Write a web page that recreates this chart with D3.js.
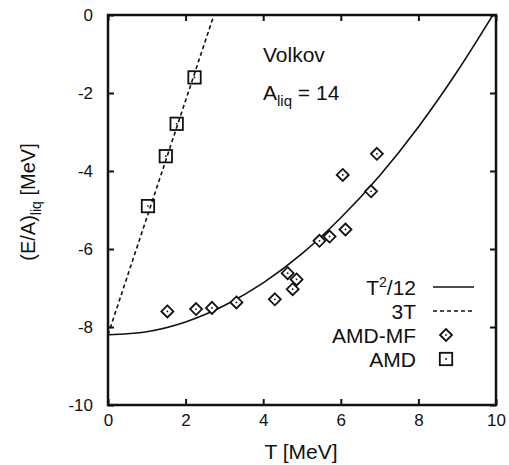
<!DOCTYPE html>
<html><head><meta charset="utf-8">
<script src="https://cdn.jsdelivr.net/npm/d3@7"></script>
<style>
html,body{margin:0;padding:0;background:#fff;}
svg{display:block;font-family:"Liberation Sans",Arial,sans-serif;}
</style></head>
<body><svg id="c" width="509" height="465"></svg>
<script>
// ---- data ----
const xTicks = [0, 2, 4, 6, 8, 10];
const yTicks = [0, -2, -4, -6, -8, -10];
// AMD (squares)
const amdT = [1.03, 1.49, 1.77, 2.23];
const amdE = [-4.90, -3.62, -2.79, -1.60];
// AMD-MF (diamonds)
const mfT = [1.53, 2.27, 2.68, 3.31, 4.30, 4.63, 4.76, 4.86, 5.45, 5.71, 6.05, 6.12, 6.78, 6.93];
const mfE = [-7.60, -7.54, -7.51, -7.37, -7.29, -6.62, -7.03, -6.78, -5.79, -5.68, -4.10, -5.50, -4.52, -3.56];
// T^2/12 curve (solid)
const curveT = [0, 1, 2, 3, 4, 5, 6, 7, 8, 9, 9.92];
const curveE = [-8.20, -8.12, -7.87, -7.45, -6.87, -6.12, -5.20, -4.12, -2.87, -1.45, 0];
// 3T line (dashed)
const lineT = [0, 2.73];
const lineE = [-8.20, 0];
const legendLabels = ["T²/12", "3T", "AMD-MF", "AMD"];

// ---- layout ----
const svg = d3.select("#c");
const L = 108, R = 496, T = 15, B = 405;
const x = d3.scaleLinear().domain([0, 10]).range([L, R]);
const y = d3.scaleLinear().domain([-10, 0]).range([B, T]);

svg.append("defs").append("clipPath").attr("id", "pc")
  .append("rect").attr("x", L).attr("y", T).attr("width", R - L).attr("height", B - T);

const fmt = d => String(d);
const fs = "17px";
// axes with inward ticks
const gB = svg.append("g").attr("transform", `translate(0,${B})`)
  .call(d3.axisBottom(x).tickValues(xTicks).tickSize(-6).tickPadding(9).tickFormat(fmt));
const gT = svg.append("g").attr("transform", `translate(0,${T})`)
  .call(d3.axisTop(x).tickValues(xTicks).tickSize(-6).tickFormat(""));
const gL = svg.append("g").attr("transform", `translate(${L},0)`)
  .call(d3.axisLeft(y).tickValues(yTicks).tickSize(-6).tickPadding(15).tickFormat(fmt));
const gR = svg.append("g").attr("transform", `translate(${R},0)`)
  .call(d3.axisRight(y).tickValues(yTicks).tickSize(-6).tickFormat(""));
[gB, gT, gL, gR].forEach(g => {
  g.select(".domain").remove();
  g.selectAll(".tick line").attr("stroke", "#111").attr("stroke-width", 2);
  g.selectAll(".tick text").attr("fill", "#111").style("font-size", fs)
    .style("font-family", '"Liberation Sans",Arial,sans-serif');
});

const plot = svg.append("g").attr("clip-path", "url(#pc)");

// curves
const lineGen = d3.line().x(d => x(d[0])).y(d => y(d[1]));
plot.append("path")
  .datum(curveT.map((t, i) => [t, curveE[i]]))
  .attr("d", lineGen.curve(d3.curveMonotoneX))
  .attr("fill", "none").attr("stroke", "#111").attr("stroke-width", 1.6);
plot.append("path")
  .datum(lineT.map((t, i) => [t, lineE[i]]))
  .attr("d", d3.line().x(d => x(d[0])).y(d => y(d[1])))
  .attr("fill", "none").attr("stroke", "#111").attr("stroke-width", 1.6)
  .attr("stroke-dasharray", "4,3");

// markers
function diamond(g, cx, cy) {
  const r = 6;
  g.append("path").attr("d", `M${cx},${cy - r}L${cx + r},${cy}L${cx},${cy + r}L${cx - r},${cy}Z`)
    .attr("fill", "#fff").attr("stroke", "#111").attr("stroke-width", 1.8);
  g.append("circle").attr("cx", cx).attr("cy", cy).attr("r", 0.9).attr("fill", "#111");
}
function square(g, cx, cy) {
  const r = 6.2;
  g.append("rect").attr("x", cx - r).attr("y", cy - r).attr("width", 2 * r).attr("height", 2 * r)
    .attr("fill", "none").attr("stroke", "#111").attr("stroke-width", 1.8);
  g.append("circle").attr("cx", cx).attr("cy", cy).attr("r", 0.9).attr("fill", "#111");
}
const mg = svg.append("g");
mfT.forEach((t, i) => diamond(mg, x(t), y(mfE[i])));
amdT.forEach((t, i) => square(mg, x(t), y(amdE[i])));

// frame
svg.append("rect").attr("x", L).attr("y", T).attr("width", R - L).attr("height", B - T)
  .attr("fill", "none").attr("stroke", "#111").attr("stroke-width", 2.5);

// annotations
const ann = svg.append("g").attr("fill", "#111").style("font-size", "21px");
ann.append("text").attr("x", 263).attr("y", 62).text("Volkov");
const al = ann.append("text").attr("x", 263).attr("y", 100);
al.append("tspan").text("A");
al.append("tspan").attr("dy", 6).style("font-size", "15px").text("liq");
al.append("tspan").attr("dy", -6).text(" = 14");

// legend
const rows = [287, 311, 335, 359];
const lg = svg.append("g").attr("fill", "#111").style("font-size", "21px");
rows.forEach((ry, i) => {
  const t = lg.append("text").attr("x", 416).attr("y", ry + 7.5).attr("text-anchor", "end");
  if (i === 0) {
    t.append("tspan").text("T");
    t.append("tspan").attr("dy", -8).style("font-size", "14px").text("2");
    t.append("tspan").attr("dy", 8).text("/12");
  } else {
    t.text(legendLabels[i]);
  }
});
lg.append("line").attr("x1", 433).attr("x2", 474).attr("y1", rows[0]).attr("y2", rows[0])
  .attr("stroke", "#111").attr("stroke-width", 1.6);
lg.append("line").attr("x1", 433).attr("x2", 474).attr("y1", rows[1]).attr("y2", rows[1])
  .attr("stroke", "#111").attr("stroke-width", 1.6).attr("stroke-dasharray", "4,3");
diamond(lg, 446, rows[2]);
square(lg, 446, rows[3]);

// axis titles
svg.append("text").attr("x", 301).attr("y", 459).attr("text-anchor", "middle")
  .attr("fill", "#111").style("font-size", "21px").text("T [MeV]");
const yl = svg.append("text").attr("transform", "translate(35,202) rotate(-90)")
  .attr("text-anchor", "middle").attr("fill", "#111").style("font-size", "20px");
yl.append("tspan").text("(E/A)");
yl.append("tspan").attr("dy", 6).style("font-size", "14px").text("liq");
yl.append("tspan").attr("dy", -6).text(" [MeV]");
</script></body></html>
